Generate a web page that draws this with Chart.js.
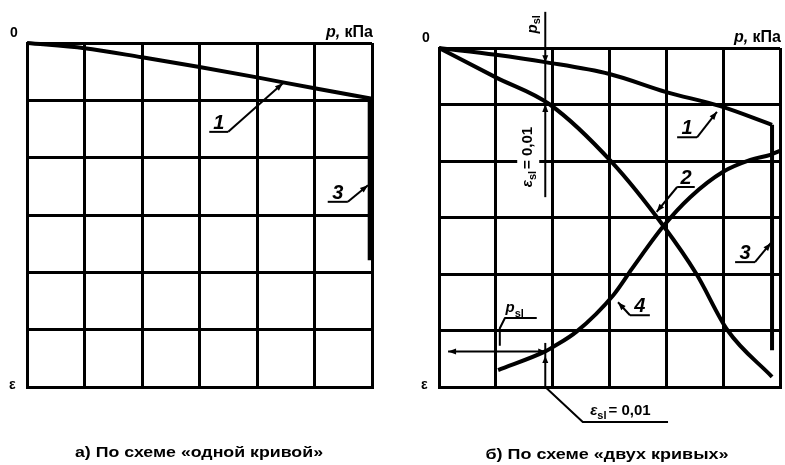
<!DOCTYPE html>
<html>
<head>
<meta charset="utf-8">
<script src="https://cdn.jsdelivr.net/npm/chart.js@4.4.1/dist/chart.umd.min.js"></script>
<style>
  body { margin: 0; background: #fff; }
  canvas { position: absolute; top: 0; }
</style>
</head>
<body>
<canvas id="chartA" width="400" height="465" style="left:0px"></canvas>
<canvas id="chartB" width="385" height="465" style="left:400px"></canvas>
<script>
// grid: 6 x 6 cells, p to the right, eps downwards
const gridTicks = [0, 1, 2, 3, 4, 5, 6];

// panel a) "one curve" scheme
const aCurve1P = [0, 1, 2, 3, 4, 5, 6];
const aCurve1E = [0, 0.09, 0.25, 0.42, 0.6, 0.79, 0.97];
const aCurve3P = [5.96, 5.96];
const aCurve3E = [0.97, 3.79];

// panel b) "two curves" scheme
const bCurve1P = [0, 1, 1.87, 3, 4, 4.95, 5.86];
const bCurve1E = [0, 0.12, 0.25, 0.46, 0.78, 1.03, 1.36];
const bCurve2P = [0, 1, 1.95, 3.04, 3.95, 4.53, 5.08, 5.86];
const bCurve2E = [0, 0.52, 1.0, 2.02, 3.15, 4.0, 5.0, 5.82];
const bCurve3P = [5.86, 5.86];
const bCurve3E = [1.36, 5.35];
const bCurve4P = [1.04, 1.87, 2.01, 2.42, 3.07, 3.4, 3.95, 4.42, 5.0, 5.48, 5.83, 6.0];
const bCurve4E = [5.7, 5.37, 5.29, 5.02, 4.37, 3.9, 3.15, 2.64, 2.19, 1.98, 1.89, 1.82];

// p_sl and the eps level where eps_sl = 0.01 is read
const pSl = 1.87;
const eSlLevel = 5.37;

const FONT = "'Liberation Sans', Arial, sans-serif";

function pts(xs, ys) {
  return xs.map((x, i) => ({ x: x, y: ys[i] }));
}

function curve(xs, ys, smooth) {
  return {
    data: pts(xs, ys),
    showLine: true,
    borderColor: "#000",
    borderWidth: 4,
    pointRadius: 0,
    cubicInterpolationMode: smooth ? "monotone" : "default",
    tension: 0,
    clip: false
  };
}

function axis(reverse) {
  return {
    type: "linear",
    min: 0,
    max: 6,
    reverse: reverse,
    afterBuildTicks: (s) => { s.ticks = gridTicks.map(v => ({ value: v })); },
    ticks: { display: false },
    grid: { color: "#000", lineWidth: 3, drawTicks: false },
    border: { display: true, color: "#000", width: 3 }
  };
}

function P(chart, p, e) {
  return [chart.scales.x.getPixelForValue(p), chart.scales.y.getPixelForValue(e)];
}

function line(ctx, list, w) {
  ctx.save();
  ctx.strokeStyle = "#000";
  ctx.lineWidth = w || 2;
  ctx.lineJoin = "round";
  ctx.beginPath();
  list.forEach((q, i) => i ? ctx.lineTo(q[0], q[1]) : ctx.moveTo(q[0], q[1]));
  ctx.stroke();
  ctx.restore();
}

function arrow(ctx, from, tip, len, half) {
  const a = Math.atan2(tip[1] - from[1], tip[0] - from[0]);
  len = len || 8; half = half || 3;
  ctx.save();
  ctx.fillStyle = "#000";
  ctx.translate(tip[0], tip[1]);
  ctx.rotate(a);
  ctx.beginPath();
  ctx.moveTo(0, 0);
  ctx.lineTo(-len, -half);
  ctx.lineTo(-len, half);
  ctx.closePath();
  ctx.fill();
  ctx.restore();
}

// label with subscript, drawn starting at x (left aligned)
function subText(ctx, base, sub, rest, x, y, size) {
  ctx.font = "bold italic " + size + "px " + FONT;
  ctx.fillText(base, x, y);
  x += ctx.measureText(base).width;
  ctx.font = "bold " + Math.round(size * 0.7) + "px " + FONT;
  ctx.fillText(sub, x, y + size * 0.3);
  x += ctx.measureText(sub).width;
  if (rest) {
    ctx.font = "bold " + size + "px " + FONT;
    ctx.fillText(rest, x + 2, y);
  }
}

function subWidth(ctx, base, sub, rest, size) {
  ctx.font = "bold italic " + size + "px " + FONT;
  let w = ctx.measureText(base).width;
  ctx.font = "bold " + Math.round(size * 0.7) + "px " + FONT;
  w += ctx.measureText(sub).width;
  if (rest) {
    ctx.font = "bold " + size + "px " + FONT;
    w += ctx.measureText(rest).width + 2;
  }
  return w;
}

// numbered callout: underline [u0, u1] at level uy, leader from u1 side to tip
function callout(chart, label, u0, u1, uy, tip, fromLeft) {
  const ctx = chart.ctx;
  const a = P(chart, u0, uy), b = P(chart, u1, uy), t = P(chart, tip[0], tip[1]);
  const start = fromLeft ? a : b;
  ctx.save();
  ctx.fillStyle = "#000";
  ctx.font = "bold italic 20px " + FONT;
  ctx.textAlign = "center";
  ctx.textBaseline = "alphabetic";
  ctx.fillText(label, (a[0] + b[0]) / 2, a[1] - 3);
  ctx.restore();
  line(ctx, [a, b], 2);
  line(ctx, [start, t], 2);
  arrow(ctx, start, t, 8, 3);
}

function axisLabels(chart) {
  const ctx = chart.ctx, ca = chart.chartArea;
  ctx.save();
  ctx.fillStyle = "#000";
  ctx.textBaseline = "alphabetic";
  ctx.font = "bold 14px " + FONT;
  ctx.textAlign = "left";
  ctx.fillText("0", ca.left - 17, ca.top - 6);
  ctx.fillText("ε", ca.left - 18, ca.bottom + 2);
  ctx.textAlign = "right";
  ctx.font = "bold 16px " + FONT;
  const kpa = " кПа";
  const wK = ctx.measureText(kpa).width;
  ctx.fillText(kpa, ca.right + 1, ca.top - 6);
  ctx.font = "bold italic 16px " + FONT;
  ctx.fillText("p,", ca.right + 1 - wK, ca.top - 6);
  ctx.restore();
}

function caption(chart, text, cx, cy, width) {
  const ctx = chart.ctx;
  ctx.save();
  ctx.fillStyle = "#000";
  ctx.font = "bold 14px " + FONT;
  ctx.textAlign = "center";
  ctx.textBaseline = "middle";
  const w = ctx.measureText(text).width;
  ctx.translate(cx, cy);
  ctx.scale(width / w, 1);
  ctx.fillText(text, 0, 0);
  ctx.restore();
}

const panelA = {
  id: "panelA",
  afterDatasetsDraw(chart) {
    axisLabels(chart);
    callout(chart, "1", 3.17, 3.50, 1.55, [4.45, 0.70], false);
    callout(chart, "3", 5.23, 5.58, 2.77, [5.93, 2.48], false);
    caption(chart, "а) По схеме «одной кривой»", 199, 453, 248);
  }
};

const panelB = {
  id: "panelB",
  afterDatasetsDraw(chart) {
    const ctx = chart.ctx;
    axisLabels(chart);

    // vertical p_sl dimension line at the top
    const top = P(chart, pSl, -0.64), mid = P(chart, pSl, 2.64);
    // white box behind rotated eps_sl text
    const tc = P(chart, 1.57, 1.93);
    ctx.save();
    ctx.fillStyle = "#fff";
    ctx.fillRect(tc[0] - 11, tc[1] - 42, 22, 84);
    ctx.restore();
    line(ctx, [top, mid], 2);
    arrow(ctx, P(chart, pSl, 1.3), P(chart, pSl, 0.99), 8, 3);
    arrow(ctx, P(chart, pSl, -0.2), P(chart, pSl, 0.25), 7, 3);

    ctx.save();
    ctx.fillStyle = "#000";
    ctx.textBaseline = "middle";
    // rotated p_sl
    const pc = P(chart, 1.65, -0.42);
    ctx.translate(pc[0], pc[1]);
    ctx.rotate(-Math.PI / 2);
    const w1 = subWidth(ctx, "p", "sl", "", 15);
    subText(ctx, "p", "sl", "", -w1 / 2, 0, 15);
    ctx.restore();

    ctx.save();
    ctx.fillStyle = "#000";
    ctx.textBaseline = "middle";
    ctx.translate(tc[0], tc[1]);
    ctx.rotate(-Math.PI / 2);
    const w2 = subWidth(ctx, "ε", "sl", "= 0,01", 15);
    subText(ctx, "ε", "sl", "= 0,01", -w2 / 2, 0, 15);
    ctx.restore();

    // bottom dimension for eps_sl = 0,01 on curve 4
    const h0 = P(chart, 0.16, eSlLevel), h1 = P(chart, pSl, eSlLevel);
    line(ctx, [h0, h1], 2);
    arrow(ctx, h1, h0, 8, 3);
    arrow(ctx, P(chart, 1.5, eSlLevel), h1, 7, 3);
    const v0 = P(chart, pSl, 5.22), v1 = P(chart, pSl, 6.0);
    line(ctx, [v0, v1], 2);
    arrow(ctx, P(chart, pSl, 5.7), P(chart, pSl, 5.45), 7, 3);
    line(ctx, [v1, P(chart, 2.53, 6.62), P(chart, 4.03, 6.62)], 2);
    ctx.save();
    ctx.fillStyle = "#000";
    ctx.textBaseline = "alphabetic";
    const lb = P(chart, 2.66, 6.49);
    subText(ctx, "ε", "sl", "= 0,01", lb[0], lb[1], 15);
    ctx.restore();

    // p_sl label at the bottom left
    line(ctx, [P(chart, 1.72, 4.78), P(chart, 1.16, 4.78), P(chart, 1.07, 4.96), P(chart, 1.07, 5.27)], 2);
    ctx.save();
    ctx.fillStyle = "#000";
    ctx.textBaseline = "alphabetic";
    const lp = P(chart, 1.17, 4.68);
    subText(ctx, "p", "sl", "", lp[0], lp[1], 15);
    ctx.restore();

    callout(chart, "1", 4.19, 4.54, 1.58, [4.89, 1.13], false);
    callout(chart, "2", 4.19, 4.50, 2.46, [3.83, 2.90], true);
    callout(chart, "3", 5.21, 5.56, 3.79, [5.84, 3.45], false);
    callout(chart, "4", 3.36, 3.71, 4.73, [3.15, 4.50], true);

    caption(chart, "б) По схеме «двух кривых»", 207, 455, 243);
  }
};

function makeChart(id, datasets, pad, plugin) {
  return new Chart(document.getElementById(id), {
    type: "scatter",
    data: { datasets: datasets },
    options: {
      responsive: false,
      animation: false,
      devicePixelRatio: 1,
      layout: { padding: pad },
      plugins: { legend: { display: false }, tooltip: { enabled: false } },
      scales: { x: axis(false), y: axis(true) }
    },
    plugins: [plugin]
  });
}

makeChart("chartA", [
  curve(aCurve1P, aCurve1E, true),
  curve(aCurve3P, aCurve3E, false)
], { left: 27, right: 28, top: 43, bottom: 78 }, panelA);

makeChart("chartB", [
  curve(bCurve1P, bCurve1E, true),
  curve(bCurve2P, bCurve2E, true),
  curve(bCurve3P, bCurve3E, false),
  curve(bCurve4P, bCurve4E, true)
], { left: 39, right: 5, top: 48, bottom: 78 }, panelB);
</script>
</body>
</html>
